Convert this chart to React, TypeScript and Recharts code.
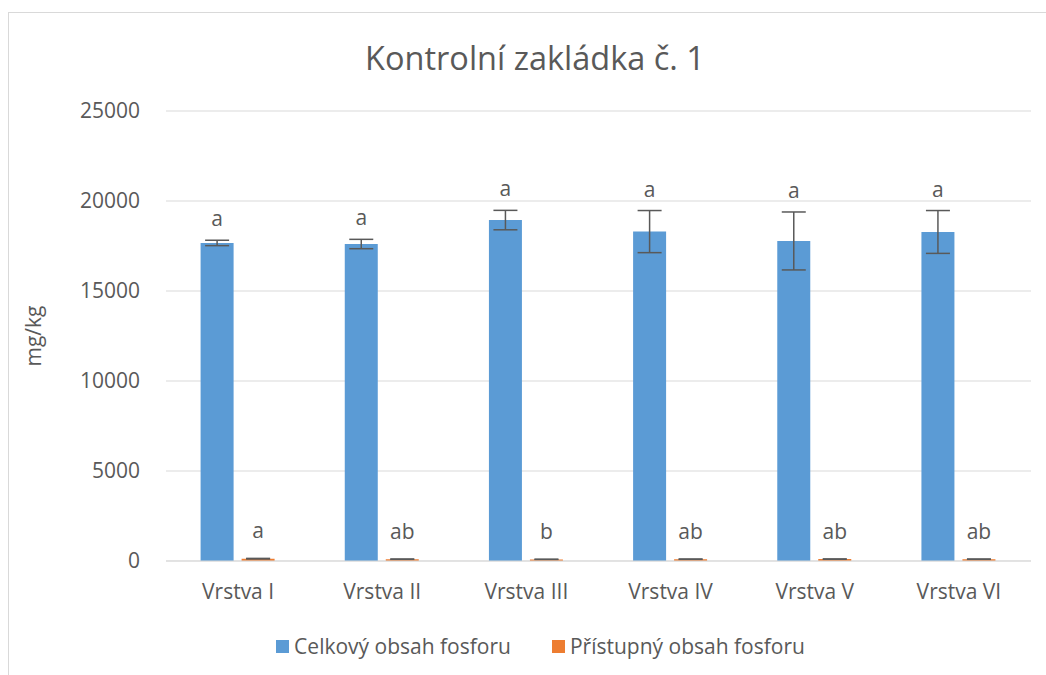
import React from 'react';
import { BarChart, Bar, XAxis, YAxis, CartesianGrid, ErrorBar, LabelList, Legend } from 'recharts';

const categories = ['Vrstva I', 'Vrstva II', 'Vrstva III', 'Vrstva IV', 'Vrstva V', 'Vrstva VI'];
const celkovy = [17670, 17610, 18940, 18300, 17780, 18280];
const celkovyErr = [150, 260, 540, 1170, 1610, 1190];
const celkovyLetters = ['a', 'a', 'a', 'a', 'a', 'a'];
const pristupny = [130, 100, 90, 100, 105, 100];
const pristupnyErr = [15, 10, 10, 10, 10, 10];
const pristupnyLetters = ['a', 'ab', 'b', 'ab', 'ab', 'ab'];
const yTicks = [0, 5000, 10000, 15000, 20000, 25000];

const data = categories.map((c, i) => ({
  name: c,
  celkovy: celkovy[i],
  celkovyErr: celkovyErr[i],
  pristupny: pristupny[i],
  pristupnyErr: pristupnyErr[i],
}));

const FONT = '"Open Sans", sans-serif';
const TEXT = '#595959';

const makeLabel = (values: number[], errs: number[], letters: string[], gap: number) => (props: any) => {
  const { x, y, width, height, index } = props;
  const v = values[index];
  const pxPer = v !== 0 ? Math.abs(height) / v : 0;
  const top = y - errs[index] * pxPer;
  return (
    <text x={x + width / 2} y={top - gap} textAnchor="middle" fill={TEXT} fontSize={21} fontFamily={FONT}>
      {letters[index]}
    </text>
  );
};

const renderLegend = () => (
  <div style={{ display: 'flex', justifyContent: 'center', fontFamily: FONT, fontSize: 21, color: TEXT, lineHeight: '28px', paddingLeft: 50 }}>
    <div style={{ display: 'flex', alignItems: 'center', marginRight: 41 }}>
      <span style={{ width: 13, height: 13, background: '#5B9BD5', display: 'inline-block', marginRight: 5 }} />
      Celkový obsah fosforu
    </div>
    <div style={{ display: 'flex', alignItems: 'center' }}>
      <span style={{ width: 13, height: 13, background: '#ED7D31', display: 'inline-block', marginRight: 5 }} />
      Přístupný obsah fosforu
    </div>
  </div>
);

export default function App() {
  return (
    <div style={{ position: 'absolute', left: 0, top: 0, width: 1046, height: 675, overflow: 'hidden', background: '#fff' }}>
      <div style={{ position: 'absolute', left: 8, top: 12, width: 1100, height: 700, border: '1px solid #d9d9d9' }} />
      <div style={{ position: 'absolute', left: 0, top: 35, width: 1070, textAlign: 'center', fontFamily: FONT, fontSize: 32.5, lineHeight: '46px', color: TEXT }}>
        Kontrolní zakládka č. 1
      </div>
      <div style={{ position: 'absolute', left: 0, top: 0 }}>
        <BarChart
          width={1046}
          height={675}
          data={data}
          margin={{ top: 111, right: 15, bottom: 56, left: 0 }}
          barCategoryGap="24%"
          barGap={8}
        >
          <CartesianGrid vertical={false} stroke="#d9d9d9" strokeWidth={1} />
          <XAxis
            dataKey="name"
            axisLine={{ stroke: '#d9d9d9' }}
            tickLine={false}
            tick={{ fill: TEXT, fontSize: 21, fontFamily: FONT }}
            tickMargin={17}
            height={30}
          />
          <YAxis
            width={166}
            domain={[0, 25000]}
            ticks={yTicks}
            axisLine={false}
            tickLine={false}
            tick={{ fill: TEXT, fontSize: 21, fontFamily: FONT }}
            tickMargin={20}
            label={{ value: 'mg/kg', angle: -90, position: 'insideLeft', offset: 34, style: { fill: TEXT, fontSize: 21, fontFamily: FONT, textAnchor: 'middle' } }}
          />
          <Legend verticalAlign="bottom" content={renderLegend} wrapperStyle={{ bottom: 15 }} />
          <Bar dataKey="celkovy" name="Celkový obsah fosforu" fill="#5B9BD5" isAnimationActive={false}>
            <ErrorBar dataKey="celkovyErr" width={12} stroke="#595959" strokeWidth={1.5} />
            <LabelList dataKey="celkovy" content={makeLabel(celkovy, celkovyErr, celkovyLetters, 14)} />
          </Bar>
          <Bar dataKey="pristupny" name="Přístupný obsah fosforu" fill="#ED7D31" isAnimationActive={false}>
            <ErrorBar dataKey="pristupnyErr" width={12} stroke="#595959" strokeWidth={1.5} />
            <LabelList dataKey="pristupny" content={makeLabel(pristupny, pristupnyErr, pristupnyLetters, 20)} />
          </Bar>
        </BarChart>
      </div>
    </div>
  );
}
